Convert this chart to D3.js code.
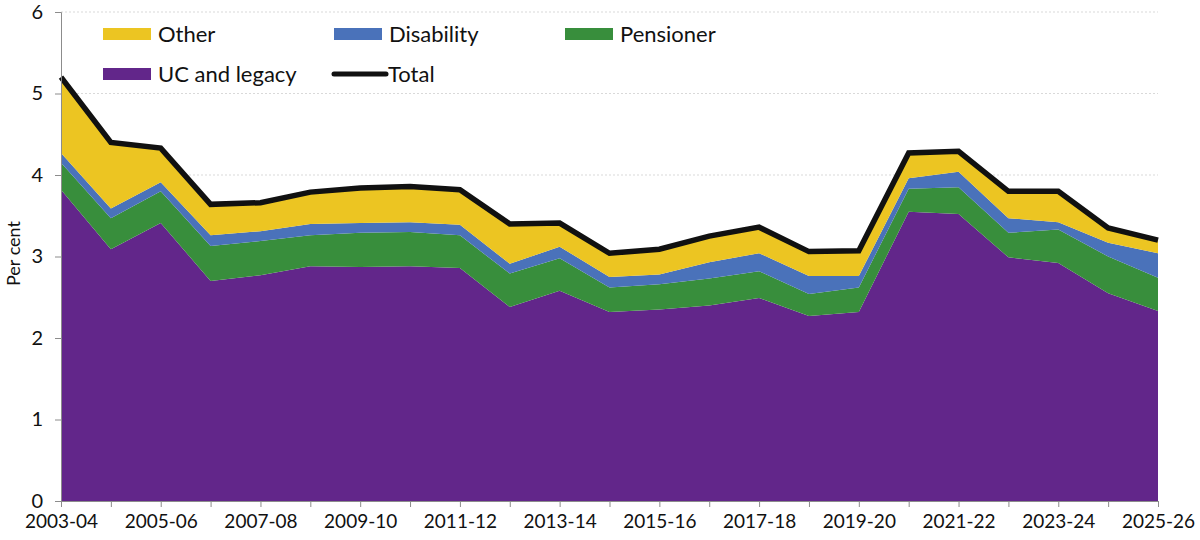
<!DOCTYPE html>
<html>
<head>
<meta charset="utf-8">
<script src="https://cdn.jsdelivr.net/npm/d3@7"></script>
<style>
  html, body { margin: 0; padding: 0; background: #fff; }
  svg text { font-family: "Lato", "DejaVu Sans", sans-serif; fill: #111; }
</style>
</head>
<body>
<div id="chart"></div>
<script>
const years = ["2003-04","2004-05","2005-06","2006-07","2007-08","2008-09","2009-10","2010-11",
  "2011-12","2012-13","2013-14","2014-15","2015-16","2016-17","2017-18","2018-19","2019-20",
  "2020-21","2021-22","2022-23","2023-24","2024-25","2025-26"];

const ucLegacy   = [3.82,3.09,3.41,2.70,2.77,2.88,2.87,2.88,2.86,2.38,2.58,2.32,2.35,2.40,2.49,2.27,2.32,3.55,3.52,2.99,2.92,2.55,2.33];
const pensioner  = [0.33,0.38,0.39,0.43,0.42,0.38,0.42,0.42,0.40,0.41,0.40,0.30,0.31,0.33,0.33,0.27,0.30,0.28,0.33,0.30,0.41,0.45,0.41];
const disability = [0.12,0.12,0.11,0.13,0.12,0.14,0.12,0.12,0.13,0.12,0.14,0.13,0.12,0.20,0.22,0.22,0.14,0.13,0.19,0.18,0.09,0.17,0.30];
const other      = [0.93,0.81,0.42,0.38,0.35,0.39,0.43,0.44,0.43,0.49,0.29,0.29,0.31,0.32,0.32,0.30,0.31,0.31,0.25,0.33,0.38,0.18,0.16];
const total      = [5.20,4.40,4.33,3.64,3.66,3.79,3.84,3.86,3.82,3.40,3.41,3.04,3.09,3.25,3.36,3.06,3.07,4.27,4.29,3.80,3.80,3.35,3.20];

const yTicks = [0,1,2,3,4,5,6];
const xTickLabels = ["2003-04","2005-06","2007-08","2009-10","2011-12","2013-14","2015-16","2017-18","2019-20","2021-22","2023-24","2025-26"];

const width = 1200, height = 540;
const margin = { top: 12, right: 42, bottom: 39, left: 61 };

const series = [
  { key: "uc", name: "UC and legacy", color: "#62268a", values: ucLegacy },
  { key: "pens", name: "Pensioner", color: "#388e3c", values: pensioner },
  { key: "dis", name: "Disability", color: "#4a72ba", values: disability },
  { key: "other", name: "Other", color: "#ecc522", values: other }
];

const rows = years.map((y, i) => {
  const r = { year: y };
  series.forEach(s => r[s.key] = s.values[i]);
  return r;
});

const stack = d3.stack().keys(series.map(s => s.key));
const stacked = stack(rows);

const svg = d3.select("#chart").append("svg")
  .attr("width", width)
  .attr("height", height);

const x = d3.scalePoint()
  .domain(years)
  .range([margin.left, width - margin.right]);

const y = d3.scaleLinear()
  .domain([0, 6])
  .range([height - margin.bottom, margin.top]);

// gridlines
svg.append("g")
  .selectAll("line")
  .data(yTicks.filter(d => d > 0))
  .join("line")
  .attr("x1", margin.left)
  .attr("x2", width - margin.right)
  .attr("y1", d => y(d))
  .attr("y2", d => y(d))
  .attr("stroke", "#d9d9d9")
  .attr("stroke-width", 1)
  .attr("stroke-dasharray", "2,2");

// areas
const area = d3.area()
  .x((d, i) => x(years[i]))
  .y0(d => y(d[0]))
  .y1(d => y(d[1]));

svg.append("g")
  .selectAll("path")
  .data(stacked)
  .join("path")
  .attr("fill", (d, i) => series[i].color)
  .attr("d", area);

// total line
const line = d3.line()
  .x((d, i) => x(years[i]))
  .y(d => y(d));

svg.append("path")
  .datum(total)
  .attr("fill", "none")
  .attr("stroke", "#111")
  .attr("stroke-width", 5.5)
  .attr("stroke-linejoin", "miter")
  .attr("d", line);

// y axis
const yAxis = svg.append("g")
  .attr("transform", `translate(${margin.left},0)`)
  .call(d3.axisLeft(y).tickValues(yTicks).tickFormat(d3.format("d")).tickSize(6).tickPadding(12));
yAxis.select(".domain").attr("stroke", "#8c8c8c");
yAxis.selectAll(".tick line").attr("stroke", "#8c8c8c");
yAxis.selectAll(".tick text").attr("font-size", 20).style("fill", "#111");

// x axis
const xAxis = svg.append("g")
  .attr("transform", `translate(0,${height - margin.bottom})`)
  .call(d3.axisBottom(x).tickValues(years).tickSize(6).tickSizeOuter(0).tickPadding(8)
    .tickFormat(d => xTickLabels.includes(d) ? d : ""));
xAxis.select(".domain").attr("stroke", "#8c8c8c");
xAxis.selectAll(".tick line").attr("stroke", "#8c8c8c");
xAxis.selectAll(".tick text").attr("font-size", 19).style("fill", "#111");

// y label
svg.append("text")
  .attr("transform", `translate(20,${y(3) - 3}) rotate(-90)`)
  .attr("text-anchor", "middle")
  .attr("font-size", 18)
  .text("Per cent");

// legend
const legendItems = [
  { name: "Other", color: "#ecc522", type: "rect", lx: 103, ly: 34 },
  { name: "Disability", color: "#4a72ba", type: "rect", lx: 334, ly: 34 },
  { name: "Pensioner", color: "#388e3c", type: "rect", lx: 565, ly: 34 },
  { name: "UC and legacy", color: "#62268a", type: "rect", lx: 103, ly: 74 },
  { name: "Total", color: "#111", type: "line", lx: 334, ly: 74 }
];

const legend = svg.append("g");
legendItems.forEach(it => {
  const g = legend.append("g").attr("transform", `translate(${it.lx},${it.ly})`);
  if (it.type === "rect") {
    g.append("rect").attr("x", 0).attr("y", -6).attr("width", 48).attr("height", 12).attr("fill", it.color);
  } else {
    g.append("line").attr("x1", 0).attr("x2", 52).attr("y1", 0).attr("y2", 0)
      .attr("stroke", it.color).attr("stroke-width", 5).attr("stroke-linecap", "round");
  }
  g.append("text")
    .attr("x", it.type === "rect" ? 55 : 54)
    .attr("y", 0)
    .attr("dy", "0.35em")
    .attr("font-size", 22)
    .text(it.name);
});
</script>
</body>
</html>
